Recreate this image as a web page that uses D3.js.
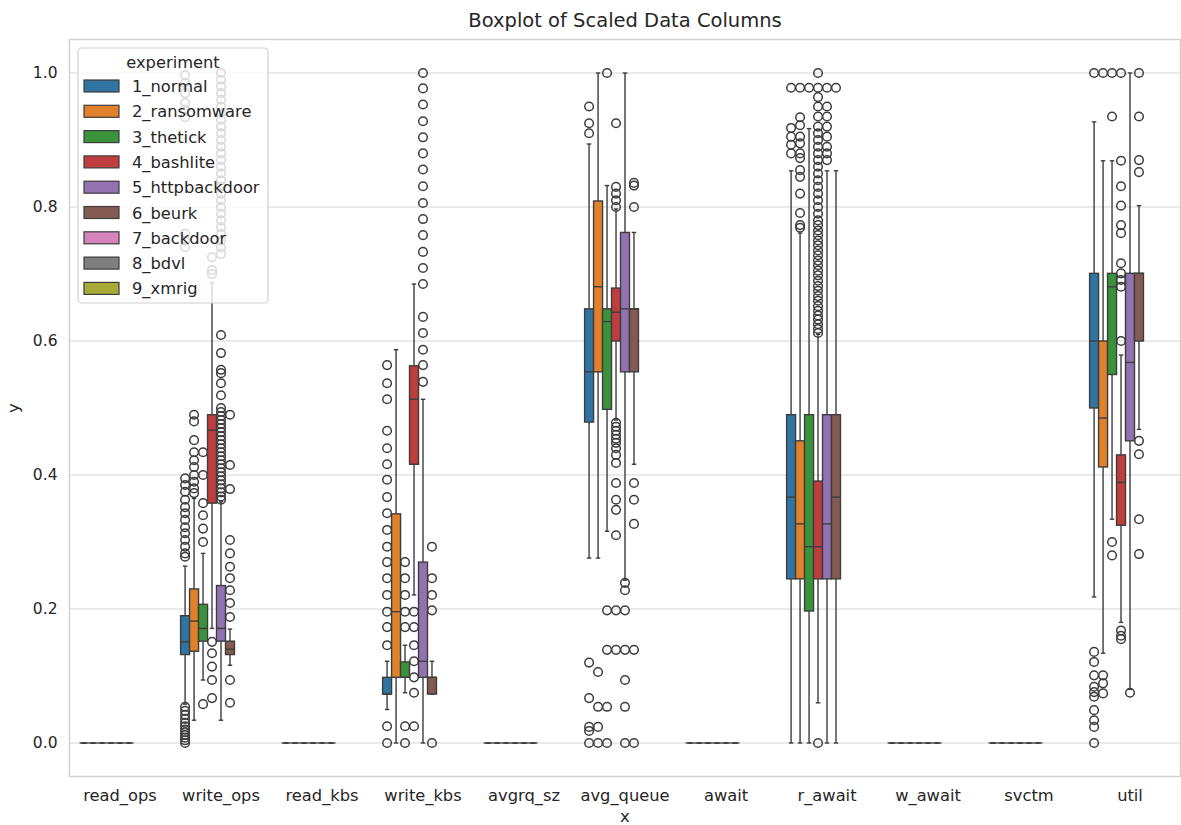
<!DOCTYPE html>
<html>
<head>
<meta charset="utf-8">
<script src="https://cdn.jsdelivr.net/npm/d3@7"></script>
<style>
  body { margin: 0; background: #fff; }
  text { font-family: "DejaVu Sans", sans-serif; fill: #262626; }
</style>
</head>
<body>
<svg id="chart" width="1181" height="825"></svg>
<script>
// Columns on the x axis
const categories = ["read_ops", "write_ops", "read_kbs", "write_kbs", "avgrq_sz",
  "avg_queue", "await", "r_await", "w_await", "svctm", "util"];

// Hue levels
const experiments = ["1_normal", "2_ransomware", "3_thetick", "4_bashlite",
  "5_httpbackdoor", "6_beurk", "7_backdoor", "8_bdvl", "9_xmrig"];

const yTicks = [0.0, 0.2, 0.4, 0.6, 0.8, 1.0];

// Box summaries per column: [lower whisker, q1, median, q3, upper whisker]
const stats_1_normal = [
  [0, 0, 0, 0, 0],
  [0.058, 0.132, 0.151, 0.19, 0.264],
  [0, 0, 0, 0, 0],
  [0.05, 0.073, 0.073, 0.098, 0.122],
  [0, 0, 0, 0, 0],
  [0.276, 0.479, 0.554, 0.648, 0.894],
  [0, 0, 0, 0, 0],
  [0, 0.245, 0.367, 0.49, 0.854],
  [0, 0, 0, 0, 0],
  [0, 0, 0, 0, 0],
  [0.218, 0.5, 0.6, 0.701, 0.927]
];
const stats_2_ransomware = [
  [0, 0, 0, 0, 0],
  [0.034, 0.137, 0.182, 0.23, 0.365],
  [0, 0, 0, 0, 0],
  [0, 0.098, 0.196, 0.342, 0.587],
  [0, 0, 0, 0, 0],
  [0.276, 0.554, 0.681, 0.809, 1.0],
  [0, 0, 0, 0, 0],
  [0, 0.245, 0.327, 0.451, 0.761],
  [0, 0, 0, 0, 0],
  [0, 0, 0, 0, 0],
  [0.134, 0.412, 0.485, 0.6, 0.869]
];
const stats_3_thetick = [
  [0, 0, 0, 0, 0],
  [0.094, 0.152, 0.171, 0.207, 0.283],
  [0, 0, 0, 0, 0],
  [0.075, 0.098, 0.098, 0.121, 0.146],
  [0, 0, 0, 0, 0],
  [0.316, 0.498, 0.629, 0.648, 0.832],
  [0, 0, 0, 0, 0],
  [0, 0.197, 0.293, 0.49, 0.917],
  [0, 0, 0, 0, 0],
  [0, 0, 0, 0, 0],
  [0.334, 0.55, 0.681, 0.701, 0.869]
];
const stats_4_bashlite = [
  [0, 0, 0, 0, 0],
  [0.171, 0.358, 0.467, 0.49, 0.687],
  [0, 0, 0, 0, 0],
  [0.221, 0.416, 0.513, 0.563, 0.685],
  [0, 0, 0, 0, 0],
  [0.482, 0.6, 0.643, 0.679, 0.797],
  [0, 0, 0, 0, 0],
  [0.06, 0.245, 0.293, 0.391, 0.61],
  [0, 0, 0, 0, 0],
  [0, 0, 0, 0, 0],
  [0.18, 0.325, 0.389, 0.43, 0.579]
];
const stats_5_httpbackdoor = [
  [0, 0, 0, 0, 0],
  [0.034, 0.152, 0.171, 0.235, 0.36],
  [0, 0, 0, 0, 0],
  [0, 0.098, 0.122, 0.27, 0.513],
  [0, 0, 0, 0, 0],
  [0.243, 0.554, 0.648, 0.762, 1.0],
  [0, 0, 0, 0, 0],
  [0, 0.245, 0.327, 0.49, 0.854],
  [0, 0, 0, 0, 0],
  [0, 0, 0, 0, 0],
  [0.08, 0.451, 0.568, 0.701, 1.0]
];
const stats_6_beurk = [
  [0, 0, 0, 0, 0],
  [0.116, 0.132, 0.14, 0.152, 0.17],
  [0, 0, 0, 0, 0],
  [0.073, 0.073, 0.098, 0.098, 0.122],
  [0, 0, 0, 0, 0],
  [0.416, 0.554, 0.648, 0.648, 0.762],
  [0, 0, 0, 0, 0],
  [0, 0.245, 0.367, 0.49, 0.854],
  [0, 0, 0, 0, 0],
  [0, 0, 0, 0, 0],
  [0.468, 0.6, 0.701, 0.701, 0.802]
];
// No rows for these experiments
const stats_7_backdoor = [];
const stats_8_bdvl = [];
const stats_9_xmrig = [];

// Points beyond the whiskers, per column
const outliers_1_normal = [
  [],
  [0.278, 0.283, 0.293, 0.303, 0.313, 0.322, 0.333, 0.343, 0.352, 0.363, 0.375, 0.385, 0.395,
   0.74, 0.75, 0.76, 0.934, 0.945, 0.955, 0.97, 0.985, 0.997,
   0.0, 0.004, 0.008, 0.012, 0.016, 0.02, 0.025, 0.03, 0.036, 0.042, 0.048, 0.054],
  [],
  [0.564, 0.537, 0.513, 0.466, 0.44, 0.416, 0.393, 0.367, 0.343, 0.318, 0.293, 0.27, 0.246,
   0.221, 0.196, 0.173, 0.146, 0.025, 0.0],
  [],
  [0.95, 0.925, 0.91, 0.12, 0.067, 0.024, 0.018, 0.0],
  [],
  [0.88, 0.893, 0.905, 0.918, 0.978],
  [],
  [],
  [1.0, 0.136, 0.121, 0.101, 0.084, 0.076, 0.069, 0.049, 0.034, 0.024, 0.0]
];
const outliers_2_ransomware = [
  [],
  [0.373, 0.38, 0.39, 0.4, 0.412, 0.422, 0.434, 0.452, 0.48, 0.49],
  [],
  [],
  [],
  [0.106, 0.054, 0.024, 0.0],
  [],
  [0.769, 0.773, 0.791, 0.82, 0.845, 0.855, 0.873, 0.88, 0.895, 0.905, 0.922, 0.934, 0.978],
  [],
  [],
  [1.0, 0.101, 0.089, 0.074]
];
const outliers_3_thetick = [
  [],
  [0.434, 0.4, 0.358, 0.34, 0.32, 0.3, 0.058],
  [],
  [0.27, 0.246, 0.221, 0.196, 0.173, 0.025, 0.0],
  [],
  [1.0, 0.198, 0.139, 0.054, 0.0],
  [],
  [0.978],
  [],
  [],
  [1.0, 0.935, 0.3, 0.28]
];
const outliers_4_bashlite = [
  [],
  [0.151, 0.134, 0.114, 0.094, 0.067, 0.7, 0.706, 0.725],
  [],
  [0.196, 0.173, 0.146, 0.122, 0.098, 0.075, 0.025],
  [],
  [0.8, 0.81, 0.82, 0.83, 0.925, 0.478, 0.472, 0.466, 0.46, 0.454, 0.448, 0.44, 0.43,
   0.418, 0.388, 0.363, 0.348, 0.31, 0.198, 0.139],
  [],
  [0.612, 0.618, 0.625, 0.632, 0.638, 0.645, 0.652, 0.66, 0.667, 0.675, 0.682, 0.69, 0.698,
   0.705, 0.713, 0.72, 0.728, 0.735, 0.743, 0.75, 0.758, 0.765, 0.773, 0.78, 0.79, 0.8,
   0.81, 0.82, 0.83, 0.84, 0.85, 0.86, 0.87, 0.88, 0.89, 0.9, 0.91, 0.92, 0.935, 0.95,
   0.964, 0.978, 1.0, 0.0],
  [],
  [],
  [0.168, 0.16, 0.155, 0.6, 0.681, 0.691, 0.701, 0.716, 0.761, 0.773, 0.802, 0.831, 0.869, 1.0]
];
const outliers_5_httpbackdoor = [
  [],
  [0.363, 0.368, 0.374, 0.38, 0.386, 0.392, 0.398, 0.404, 0.41, 0.416, 0.422, 0.428, 0.434,
   0.44, 0.446, 0.452, 0.458, 0.464, 0.47, 0.476, 0.482, 0.488, 0.494, 0.5, 0.519, 0.537,
   0.552, 0.557, 0.582, 0.609,
   0.73, 0.74, 0.75, 0.76, 0.77, 0.78, 0.79, 0.8, 0.81, 0.82, 0.83, 0.84, 0.85, 0.86, 0.87,
   0.88, 0.89, 0.9, 0.91, 0.92, 0.93, 0.94, 0.95, 0.96, 0.97, 0.98, 0.99, 1.0],
  [],
  [0.539, 0.564, 0.587, 0.612, 0.636, 0.685, 0.709, 0.733, 0.758, 0.782, 0.806, 0.831,
   0.856, 0.88, 0.904, 0.928, 0.953, 0.977, 1.0],
  [],
  [0.239, 0.228, 0.198, 0.139, 0.094, 0.054, 0.0],
  [],
  [0.87, 0.88, 0.89, 0.905, 0.92, 0.935, 0.95, 0.978],
  [],
  [],
  [0.075]
];
const outliers_6_beurk = [
  [],
  [0.49, 0.415, 0.379, 0.303, 0.283, 0.263, 0.246, 0.228, 0.209, 0.188, 0.094, 0.06],
  [],
  [0.293, 0.246, 0.221, 0.198, 0.0],
  [],
  [0.832, 0.836, 0.8, 0.388, 0.363, 0.327, 0.139, 0.0],
  [],
  [0.978],
  [],
  [],
  [1.0, 0.935, 0.87, 0.852, 0.451, 0.431, 0.334, 0.282]
];
const outliers_7_backdoor = [];
const outliers_8_bdvl = [];
const outliers_9_xmrig = [];

const seriesStats = [stats_1_normal, stats_2_ransomware, stats_3_thetick, stats_4_bashlite,
  stats_5_httpbackdoor, stats_6_beurk, stats_7_backdoor, stats_8_bdvl, stats_9_xmrig];
const seriesOutliers = [outliers_1_normal, outliers_2_ransomware, outliers_3_thetick,
  outliers_4_bashlite, outliers_5_httpbackdoor, outliers_6_beurk, outliers_7_backdoor,
  outliers_8_bdvl, outliers_9_xmrig];

// Styling
const palette = ["#3274a1", "#e1812c", "#3a923a", "#c03d3e", "#9372b2",
  "#845b53", "#d684bd", "#7f7f7f", "#a9aa35"];
const lineColor = "#3d3d3d";
const gridColor = "#d6d6d6";
const lw = 1.4;

const svg = d3.select("#chart");
const plot = { left: 69.5, right: 1180.5, top: 39.5, bottom: 776.5 };

const x = d3.scaleBand().domain(categories).range([plot.left, plot.right]);
const xHue = d3.scaleBand().domain(experiments).range([0, x.bandwidth() * 0.8]);
const y = d3.scaleLinear().domain([-0.05, 1.05]).range([plot.bottom, plot.top]);

// Horizontal grid
svg.append("g").selectAll("line").data(yTicks).join("line")
  .attr("x1", plot.left).attr("x2", plot.right)
  .attr("y1", d => y(d)).attr("y2", d => y(d))
  .attr("stroke", gridColor).attr("stroke-width", 1.1);

// Frame
svg.append("rect")
  .attr("x", plot.left).attr("y", plot.top)
  .attr("width", plot.right - plot.left).attr("height", plot.bottom - plot.top)
  .attr("fill", "none").attr("stroke", "#d0d0d0").attr("stroke-width", 1.4);

// Y axis
const yAxis = svg.append("g")
  .attr("transform", `translate(${plot.left},0)`)
  .call(d3.axisLeft(y).tickValues(yTicks).tickFormat(d3.format(".1f")).tickSize(0).tickPadding(12));
yAxis.select(".domain").remove();
yAxis.selectAll("text").attr("font-size", 15.5).attr("fill", "#262626")
  .style("font-family", '"DejaVu Sans", sans-serif');

// X axis
const xAxis = svg.append("g")
  .attr("transform", `translate(0,${plot.bottom})`)
  .call(d3.axisBottom(x).tickSize(0).tickPadding(13));
xAxis.select(".domain").remove();
xAxis.selectAll("text").attr("font-size", 16.3).attr("fill", "#262626")
  .style("font-family", '"DejaVu Sans", sans-serif');

// Axis titles and chart title
svg.append("text").attr("x", (plot.left + plot.right) / 2).attr("y", 822)
  .attr("text-anchor", "middle").attr("font-size", 16.5).text("x");
svg.append("text")
  .attr("transform", `translate(19,${(plot.top + plot.bottom) / 2}) rotate(-90)`)
  .attr("text-anchor", "middle").attr("font-size", 16.5).text("y");
svg.append("text").attr("x", (plot.left + plot.right) / 2).attr("y", 27)
  .attr("text-anchor", "middle").attr("font-size", 19.5).text("Boxplot of Scaled Data Columns");

// Boxes, whiskers, medians and fliers, one hue level at a time
const marks = svg.append("g");
experiments.forEach((exp, h) => {
  const st = seriesStats[h];
  const out = seriesOutliers[h];
  const g = marks.append("g");
  categories.forEach((cat, c) => {
    const s = st[c];
    if (!s) return;
    const [lo, q1, med, q3, hi] = s;
    const w = xHue.bandwidth();
    const x0 = x(cat) + x.bandwidth() * 0.1 + xHue(exp);
    const cx = x0 + w / 2;
    const cap = w * 0.25;
    // whiskers
    g.append("line").attr("x1", cx).attr("x2", cx).attr("y1", y(q1)).attr("y2", y(lo))
      .attr("stroke", lineColor).attr("stroke-width", lw);
    g.append("line").attr("x1", cx).attr("x2", cx).attr("y1", y(q3)).attr("y2", y(hi))
      .attr("stroke", lineColor).attr("stroke-width", lw);
    // caps
    [lo, hi].forEach(v => g.append("line")
      .attr("x1", cx - cap).attr("x2", cx + cap).attr("y1", y(v)).attr("y2", y(v))
      .attr("stroke", lineColor).attr("stroke-width", lw));
    // box
    g.append("rect").attr("x", x0).attr("width", w)
      .attr("y", y(q3)).attr("height", Math.max(0, y(q1) - y(q3)))
      .attr("fill", palette[h]).attr("stroke", lineColor).attr("stroke-width", lw);
    // median
    g.append("line").attr("x1", x0).attr("x2", x0 + w).attr("y1", y(med)).attr("y2", y(med))
      .attr("stroke", lineColor).attr("stroke-width", lw);
    // fliers
    const pts = out[c] || [];
    g.selectAll(null).data(pts).join("circle")
      .attr("cx", cx).attr("cy", d => y(d)).attr("r", 4.3)
      .attr("fill", "none").attr("stroke", lineColor).attr("stroke-width", 1.5);
  });
});

// Legend
const legend = svg.append("g");
const lg = { x: 78, y: 48, w: 190, h: 255 };
legend.append("rect").attr("x", lg.x).attr("y", lg.y).attr("width", lg.w).attr("height", lg.h)
  .attr("rx", 4).attr("fill", "rgba(255,255,255,0.8)").attr("stroke", "#d0d0d0").attr("stroke-width", 1.2);
legend.append("text").attr("x", lg.x + lg.w / 2).attr("y", lg.y + 20)
  .attr("text-anchor", "middle").attr("font-size", 16.3).text("experiment");
const rows = legend.selectAll("g.row").data(experiments).join("g").attr("class", "row")
  .attr("transform", (d, i) => `translate(${lg.x + 6},${lg.y + 38 + i * 25.3})`);
rows.append("rect").attr("x", 0).attr("y", -6).attr("width", 35).attr("height", 12)
  .attr("fill", (d, i) => palette[i]).attr("stroke", lineColor).attr("stroke-width", 1.2);
rows.append("text").attr("x", 48).attr("y", 6).attr("font-size", 16.3).text(d => d);
</script>
</body>
</html>
